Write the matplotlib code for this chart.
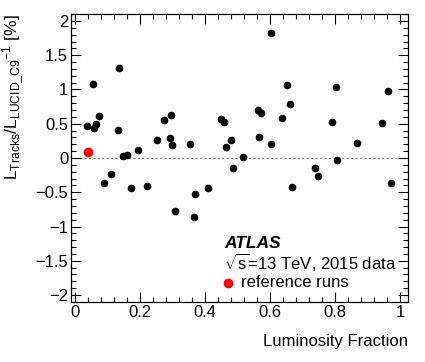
import matplotlib
matplotlib.use("Agg")
import matplotlib.pyplot as plt
from matplotlib.ticker import MultipleLocator

plt.rcParams['font.family'] = ['Liberation Sans', 'DejaVu Sans']
plt.rcParams['mathtext.fontset'] = 'custom'
plt.rcParams['mathtext.rm'] = 'Liberation Sans'
plt.rcParams['mathtext.it'] = 'Liberation Sans:italic'

# luminosity fraction and relative difference [%] per run
lumi_frac = [0.036, 0.056, 0.058, 0.064, 0.074, 0.090, 0.111, 0.133, 0.136, 0.149,
             0.159, 0.173, 0.193, 0.221, 0.253, 0.274, 0.292, 0.295, 0.300, 0.307,
             0.353, 0.367, 0.369, 0.411, 0.449, 0.459, 0.465, 0.480, 0.487, 0.516,
             0.562, 0.566, 0.574, 0.603, 0.604, 0.637, 0.654, 0.663, 0.667, 0.739,
             0.747, 0.791, 0.803, 0.806, 0.867, 0.944, 0.962, 0.973]
rel_diff = [0.46, 1.08, 0.445, 0.50, 0.61, -0.36, -0.23, 0.41, 1.32, 0.03,
            0.04, -0.44, 0.11, -0.41, 0.26, 0.56, 0.29, 0.63, 0.19, -0.77,
            0.21, -0.86, -0.53, -0.44, 0.57, 0.52, 0.16, 0.26, -0.15, 0.02,
            0.70, 0.31, 0.65, 1.83, 0.20, 0.58, 1.06, 0.79, -0.42, -0.15,
            -0.26, 0.53, 1.03, -0.03, 0.22, 0.51, 0.98, -0.37]

ref_frac = [0.039]
ref_diff = [0.085]

fig = plt.figure(figsize=(4.25, 3.62), dpi=100)
ax = fig.add_axes([0.167, 0.166, 0.793, 0.795])

ax.plot([0, 1], [0, 0], color='#777777', ls=(0, (2, 2)), lw=0.8, zorder=1)
ax.plot(lumi_frac, rel_diff, 'o', color='black', ms=4.5, ls='none', zorder=3)
ax.plot(ref_frac, ref_diff, 'o', color='red', ms=6, ls='none', zorder=4)

ax.set_xlim(-0.012, 1.025)
ax.set_ylim(-2.1, 2.1)
ax.xaxis.set_minor_locator(MultipleLocator(0.04))
ax.yaxis.set_minor_locator(MultipleLocator(0.1))
ax.set_xticks([0, 0.2, 0.4, 0.6, 0.8, 1])
ax.set_xticklabels(['0', '0.2', '0.4', '0.6', '0.8', '1'])
ax.set_yticks([-2, -1.5, -1, -0.5, 0, 0.5, 1, 1.5, 2])
ax.set_yticklabels(['\u22122', '\u22121.5', '\u22121', '\u22120.5', '0', '0.5', '1', '1.5', '2'])

ax.tick_params(which='both', direction='in', top=True, right=True, labelsize=12, colors='black')
ax.tick_params(which='major', length=7, width=0.8)
ax.tick_params(which='minor', length=3.5, width=0.8)
ax.tick_params(axis='both', pad=2)
for s in ax.spines.values():
    s.set_linewidth(0.9)

ax.set_xlabel('Luminosity Fraction', fontsize=12, ha='right', x=1.0, labelpad=10)
ax.set_ylabel(r'L$_{\mathrm{Tracks}}$/L$_{\mathrm{LUCID\_C9}}$$^{\mathrm{-1}}$ [%]',
              fontsize=12.5, ha='right', y=1.0, labelpad=7)

ax.text(0.455, 0.188, 'ATLAS', transform=ax.transAxes, fontsize=12.5,
        fontweight='bold', fontstyle='italic')
ax.text(0.455, 0.115, r'$\sqrt{\mathrm{s}}$=13 TeV, 2015 data', transform=ax.transAxes,
        fontsize=12)
ax.plot([0.467], [0.066], 'o', color='red', ms=6, transform=ax.transAxes, clip_on=False)
ax.text(0.505, 0.066, 'reference runs', transform=ax.transAxes, fontsize=12, va='center')

fig.savefig('out.png', dpi=100)
